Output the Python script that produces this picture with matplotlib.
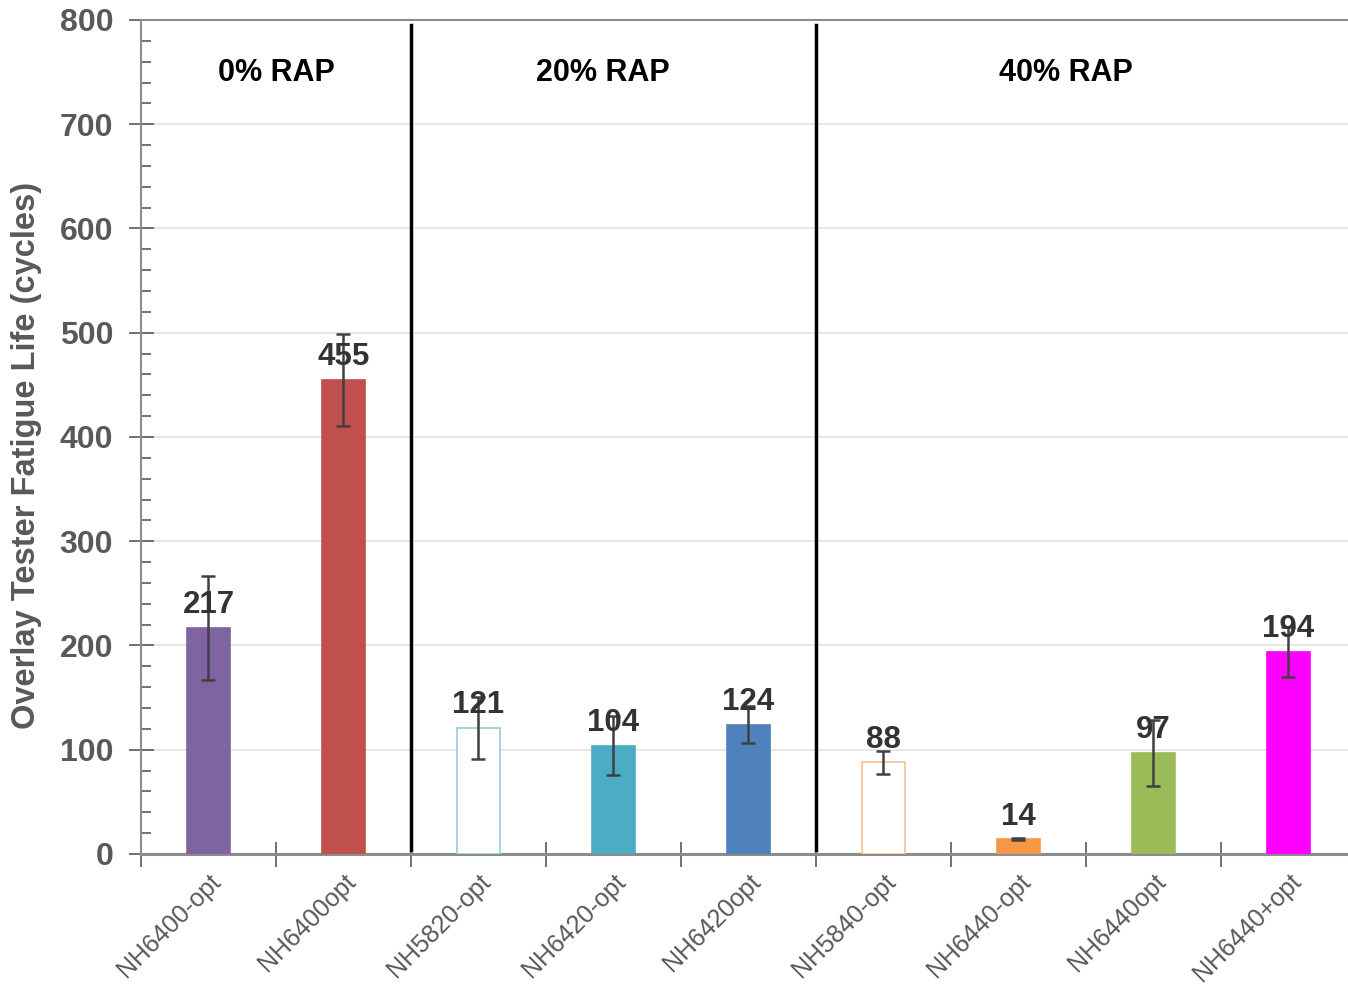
import matplotlib
matplotlib.use("Agg")
import matplotlib.pyplot as plt
from matplotlib.ticker import MultipleLocator, FixedLocator

# Overlay tester results by mixture
mixes = ["NH6400-opt", "NH6400opt", "NH5820-opt", "NH6420-opt", "NH6420opt",
         "NH5840-opt", "NH6440-opt", "NH6440opt", "NH6440+opt"]
cycles = [217, 455, 121, 104, 124, 88, 14, 97, 194]
errors = [50, 44, 30, 28, 18, 11, 1, 32, 24]
face_colors = ["#8064A2", "#C0504D", "white", "#4BACC6", "#4F81BD",
               "white", "#F79646", "#9BBB59", "#FF00FF"]
edge_colors = ["#8064A2", "#C0504D", "#92CDDC", "#4BACC6", "#4F81BD",
               "#FAC090", "#F79646", "#9BBB59", "#FF00FF"]
groups = ["0% RAP", "20% RAP", "40% RAP"]
group_label_x = [0.5, 2.92, 6.35]
group_breaks = [1.5, 4.5]

plt.rcParams["font.family"] = ["Liberation Sans", "DejaVu Sans"]

fig = plt.figure(figsize=(13.48, 9.85), dpi=100)
ax = fig.add_axes([0.1046, 0.133, 0.9013, 0.8467])

x = list(range(len(mixes)))
ax.bar(x, cycles, width=0.32, color=face_colors, edgecolor=edge_colors,
       linewidth=1.2, zorder=3)
ax.errorbar(x, cycles, yerr=errors, fmt="none", ecolor="#404040",
            elinewidth=1.8, capsize=5, capthick=1.8, zorder=4)

for xi, v in zip(x, cycles):
    ax.annotate(str(v), (xi, v), xytext=(0, 10.5), textcoords="offset points",
                ha="center", va="baseline", fontsize=22.5, fontweight="bold",
                color="#333333", zorder=5)

for xb in group_breaks:
    ax.plot([xb, xb], [4, 795], color="black", linewidth=2.5, zorder=4)

for gx, g in zip(group_label_x, groups):
    ax.text(gx, 749, g, ha="center", va="center", fontsize=22,
            fontweight="bold", color="black")

ax.set_xlim(-0.5, 8.5)
ax.set_ylim(0, 800)

ax.yaxis.set_major_locator(MultipleLocator(100))
ax.yaxis.set_minor_locator(MultipleLocator(20))
ax.grid(axis="y", which="major", color="#E3E3E3", linewidth=1.2, zorder=0)
ax.set_axisbelow(True)

ax.xaxis.set_major_locator(FixedLocator([i - 0.5 for i in range(len(mixes) + 1)]))
ax.xaxis.set_minor_locator(FixedLocator(x))
ax.set_xticklabels([])
ax.set_xticklabels(mixes, minor=True, rotation=45, ha="right",
                   rotation_mode="anchor", fontsize=18, color="#595959")
ax.tick_params(axis="x", which="major", direction="inout", length=18,
               width=1.2, color="#595959")
ax.tick_params(axis="x", which="minor", length=0, pad=11)

ax.tick_params(axis="y", which="major", direction="inout", length=18,
               width=1.2, color="#595959", labelsize=23, labelcolor="#595959", pad=11)
ax.tick_params(axis="y", which="minor", direction="in", length=7,
               width=1.2, color="#595959")
for lbl in ax.get_yticklabels():
    lbl.set_fontweight("bold")

ax.set_ylabel("Overlay Tester Fatigue Life (cycles)", fontsize=23.5,
              fontweight="bold", color="#595959")
ax.yaxis.set_label_coords(-0.0815, 0.478)

for side in ("left", "bottom", "top"):
    ax.spines[side].set_color("#8C8C8C")
    ax.spines[side].set_linewidth(1.5)
ax.spines["bottom"].set_linewidth(2.2)
ax.spines["right"].set_visible(False)

fig.savefig("out.png", dpi=100)
